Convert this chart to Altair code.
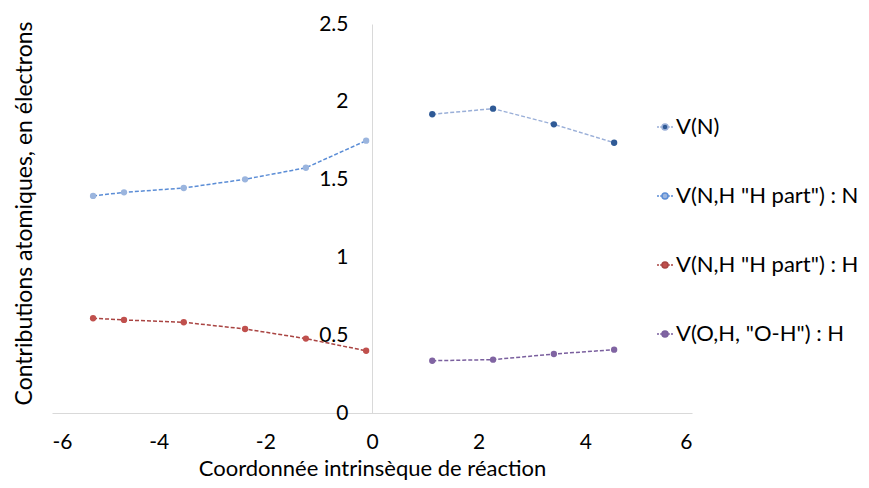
import altair as alt
import pandas as pd

# Series values
s1_name = "V(N)"
s1_x = [1.13, 2.27, 3.41, 4.54]
s1_y = [1.920, 1.956, 1.855, 1.737]

s2_name = 'V(N,H "H part") : N'
s2_x = [-5.23, -4.65, -3.53, -2.38, -1.24, -0.11]
s2_y = [1.395, 1.418, 1.446, 1.502, 1.576, 1.750]

s3_name = 'V(N,H "H part") : H'
s3_x = [-5.23, -4.65, -3.53, -2.38, -1.24, -0.11]
s3_y = [0.609, 0.598, 0.583, 0.540, 0.478, 0.400]

s4_name = 'V(O,H, "O-H") : H'
s4_x = [1.13, 2.27, 3.41, 4.54]
s4_y = [0.336, 0.343, 0.379, 0.407]

series_names = [s1_name, s2_name, s3_name, s4_name]
dot_colors = ["#2F5A96", "#9BB5DE", "#C0504D", "#8064A2"]
line_colors = ["#9AAFD8", "#5B8DD6", "#A94442", "#7A5F9E"]

x_ticks = [-6, -4, -2, 0, 2, 4, 6]
y_ticks = [0, 0.5, 1, 1.5, 2, 2.5]

rows = []
for name, xs, ys in [(s1_name, s1_x, s1_y), (s2_name, s2_x, s2_y),
                     (s3_name, s3_x, s3_y), (s4_name, s4_x, s4_y)]:
    for xv, yv in zip(xs, ys):
        rows.append({"series": name, "x": xv, "y": yv})
df = pd.DataFrame(rows)

FONT = "Lato"
FS = 21
XTFS = 22
YTFS = 23
LFS = 22

x_enc = alt.X(
    "x:Q",
    scale=alt.Scale(domain=[-6, 6], nice=False, zero=False),
    axis=alt.Axis(
        values=x_ticks, grid=False, ticks=False, tickSize=0,
        domainColor="#D9D9D9", domainWidth=1,
        labelFontSize=FS, labelFont=FONT, labelColor="#000000",
        labelBaseline="alphabetic", labelPadding=35.5,
        labelExpr="'' + datum.value",
        title="Coordonnée intrinsèque de réaction",
        titleFont=FONT, titleFontSize=XTFS, titleFontWeight="normal", titleColor="#000000",
        titleBaseline="alphabetic", titleY=62.2, titleX=320,
    ),
)
y_enc = alt.Y(
    "y:Q",
    scale=alt.Scale(domain=[0, 2.5], nice=False),
    axis=alt.Axis(
        values=y_ticks, grid=False, ticks=False, tickSize=0,
        offset=-320,
        domainColor="#D9D9D9", domainWidth=1,
        labelFontSize=FS, labelFont=FONT, labelColor="#000000",
        labelPadding=24, labelExpr="'' + datum.value",
        title="Contributions atomiques, en électrons",
        titleFont=FONT, titleFontSize=YTFS, titleFontWeight="normal", titleColor="#000000",
        titleX=-341, titleY=189, titleAngle=-90, titleAlign="center", titleBaseline="alphabetic",
    ),
)

sym_path = ("M-1,0L-0.75,0M-0.6,0L-0.45,0M0.45,0L0.6,0M0.75,0L1,0"
            "M0.375,0A0.375,0.375,0,1,1,-0.375,0A0.375,0.375,0,1,1,0.375,0Z")

stroke_scale = alt.Scale(domain=series_names, range=line_colors)
legend = alt.Legend(
    title=None, orient="none", legendX=602, legendY=92,
    symbolType=sym_path, symbolSize=256, symbolStrokeWidth=1.5,
    labelFont=FONT, labelFontSize=LFS, labelColor="#000000", labelOffset=0,
    rowPadding=47, labelLimit=400,
)

lines = alt.Chart(df).mark_line(strokeDash=[4, 2], strokeWidth=1.5).encode(
    x=x_enc,
    y=y_enc,
    detail="series:N",
    stroke=alt.Stroke("series:N", scale=stroke_scale, sort=series_names, legend=legend),
)

points = alt.Chart(df).mark_point(filled=True, size=40, opacity=1, strokeWidth=0).encode(
    x=x_enc,
    y=y_enc,
    stroke=alt.Stroke("series:N", scale=stroke_scale, sort=series_names, legend=legend),
    color=alt.Color(
        "series:N",
        scale=alt.Scale(domain=series_names, range=dot_colors),
        sort=series_names,
        legend=legend,
    ),
)

chart = alt.layer(lines, points).properties(
    width=640, height=389,
    autosize=alt.AutoSizeParams(type="none"),
    padding={"left": 44, "top": 16, "right": 169, "bottom": 67},
    background="white",
).configure_view(strokeWidth=0, stroke="transparent")

chart.save("out.html", embed_options={"renderer": "svg", "actions": False})
